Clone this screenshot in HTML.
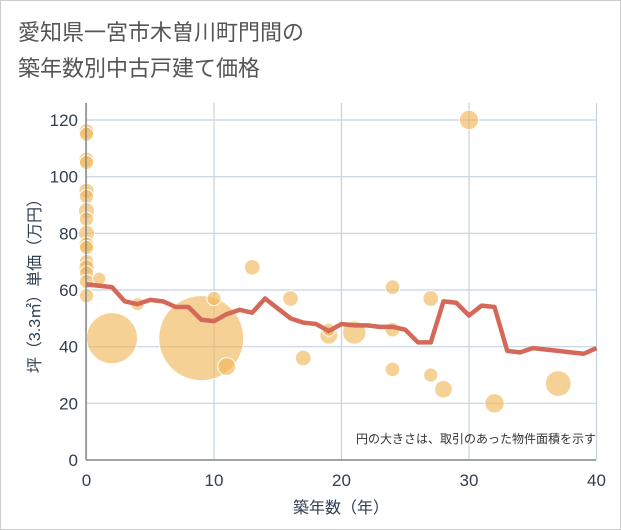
<!DOCTYPE html>
<html><head><meta charset="utf-8"><style>
body{margin:0;background:#fff;font-family:"Liberation Sans","Noto Sans CJK JP",sans-serif}
</style></head><body>
<svg id="c" width="621" height="530" style="display:block">
<rect x="0.5" y="0.5" width="620" height="529" fill="#fff" stroke="#ccc"/>
<text x="18" y="40" font-size="22" fill="#555">愛知県一宮市木曽川町門間の</text>
<text x="18" y="76" font-size="22" fill="#555">築年数別中古戸建て価格</text>
<g id="grid"></g><g id="bubbles"></g><g id="line"></g><g id="axes"></g>
<text x="596" y="443" font-size="12" fill="#333" text-anchor="end">円の大きさは、取引のあった物件面積を示す</text>
<text x="341" y="513" font-size="16" fill="#2f3e50" text-anchor="middle">築年数（年）</text>
<text transform="translate(40,282) rotate(-90)" font-size="16" fill="#2f3e50" text-anchor="middle">坪（3.3㎡）単価（万円）</text>
</svg>
<script>
const xTicks=[0,10,20,30,40];
const yTicks=[0,20,40,60,80,100,120];
const lineYears=[0,1,2,3,4,5,6,7,8,9,10,11,12,13,14,15,16,17,18,19,20,21,22,23,24,25,26,27,28,29,30,31,32,33,34,35,36,37,38,39,40];
const linePrices=[62,61.5,61,56,55,56.5,56,54,54,49.5,49,51.5,53,52,57,53.5,50,48.5,48,45.5,48,47.5,47.5,47,47,46,41.5,41.5,56,55.5,51,54.5,54,38.5,38,39.5,39,38.5,38,37.5,39.5];
const bubbleYears=[0,0,0,0,0,0,0,0,0,0,0,0,0,0,0,0,1,2,4,9,10,11,13,16,17,19,19,21,24,24,24,27,27,28,30,32,37];
const bubblePrices=[116,115,106,105,95,93,88,85,80,76,75,70,68,66,63,58,64,43,55,43,57,33,68,57,36,44,46,45,61,46,32,57,30,25,120,20,27];
const bubbleAreas=[80,70,80,70,80,70,90,70,90,80,70,70,80,70,70,70,60,900,60,2500,70,110,85,85,85,110,60,190,75,75,75,85,70,110,130,130,230];
const X=v=>86.5+v*12.75, Y=v=>460-v*(340/120);
const ns="http://www.w3.org/2000/svg";
function mk(t,a,p){const e=document.createElementNS(ns,t);for(const k in a)e.setAttribute(k,a[k]);p.appendChild(e);return e;}
const g=document.getElementById('grid'),ax=document.getElementById('axes');
yTicks.forEach(v=>{const l=mk('line',{x1:86,x2:596,y1:Y(v),y2:Y(v),stroke:'#c5d3e0','stroke-width':1.2},g);

const t=mk('text',{x:78,y:Y(v)+6,'font-size':17,fill:'#2f3e50','text-anchor':'end'},ax);t.textContent=v;
});
xTicks.forEach(v=>{const l=mk('line',{x1:X(v),x2:X(v),y1:103,y2:460,stroke:'#c5d3e0','stroke-width':1.2},g);

const t=mk('text',{x:X(v),y:486,'font-size':17,fill:'#2f3e50','text-anchor':'middle'},ax);t.textContent=v;
});
const a1=mk('line',{x1:86,x2:86,y1:103,y2:460,stroke:'#888','stroke-width':1.5},ax);

const a2=mk('line',{x1:86,x2:596,y1:460,y2:460,stroke:'#888','stroke-width':1.5},ax);

const b=document.getElementById('bubbles');
bubbleYears.forEach((yr,i)=>{const c=mk('circle',{cx:X(yr),cy:Y(bubblePrices[i]),r:Math.sqrt(bubbleAreas[i])*0.85,fill:'#f0b454','fill-opacity':0.62,stroke:'#fff','stroke-width':1},b);
});
const pl=mk('polyline',{points:lineYears.map((yr,i)=>X(yr)+','+Y(linePrices[i])).join(' '),fill:'none',stroke:'#d4695a','stroke-width':4.5,'stroke-linejoin':'round'},document.getElementById('line'));

</script>
</body></html>
